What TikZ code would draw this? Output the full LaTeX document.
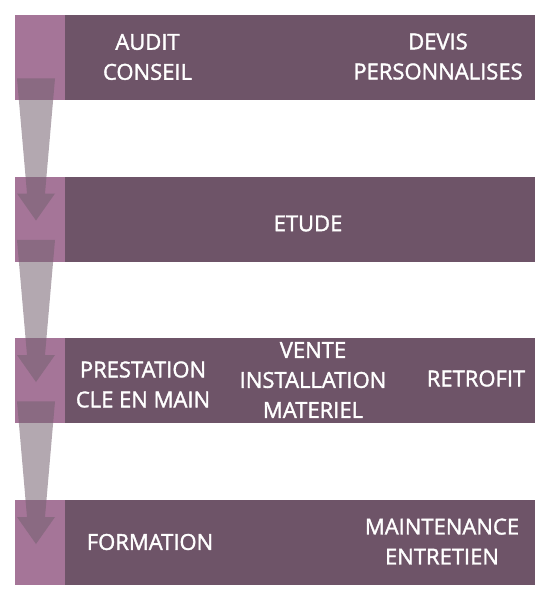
\documentclass[tikz,border=0pt]{standalone}
\usepackage{fontspec}
\setmainfont{Open Sans}
\newfontfamily\lblfont{Open Sans}[FakeBold=1.6]
\definecolor{barmain}{RGB}{110,84,104}
\definecolor{barside}{RGB}{165,117,152}
\definecolor{arrowc}{RGB}{117,97,112}
\begin{document}
\begin{tikzpicture}[x=1pt,y=-1pt,
  mainbar/.style={fill=barmain,draw=none,minimum width=471pt,minimum height=85pt,anchor=north west,inner sep=0pt},
  sidebar/.style={fill=barside,draw=none,minimum width=50pt,minimum height=85pt,anchor=north west,inner sep=0pt},
  lbl/.style={text=white,font=\lblfont\fontsize{22}{30}\selectfont,align=center,inner sep=0pt},
  flowarrow/.style={fill=arrowc,fill opacity=0.55,draw=none}]
\useasboundingbox (0,0) rectangle (550,600);
\foreach \n/\y in {1/15,2/176.5,3/338,4/500}{
  \node[mainbar] (m\n) at (64,\y) {};
  \node[sidebar] (s\n) at (15,\y) {};
}
% arrows
\foreach \a/\b in {1/2,2/3,3/4}{
  \fill[flowarrow] ([xshift=2pt,yshift=22pt]s\a.south west) -- ([xshift=40pt,yshift=22pt]s\a.south west)
    -- ([xshift=30pt,yshift=-17pt]s\b.north west) -- ([xshift=40pt,yshift=-17pt]s\b.north west)
    -- ([xshift=21pt,yshift=-44pt]s\b.north west) -- ([xshift=2pt,yshift=-17pt]s\b.north west)
    -- ([xshift=12pt,yshift=-17pt]s\b.north west) -- cycle;
}
\node[lbl] (t1) at (147.5,57) {AUDIT\\CONSEIL};
\node[lbl] (t2) at (438,56.5) {DEVIS\\PERSONNALISES};
\node[lbl] (t3) at (308,223.5) {ETUDE};
\node[lbl] (t4) at (143,384.5) {PRESTATION\\CLE EN MAIN};
\node[lbl] (t5) at (313,380) {VENTE\\INSTALLATION\\MATERIEL};
\node[lbl] (t6) at (476,378.5) {RETROFIT};
\node[lbl] (t7) at (150,542) {FORMATION};
\node[lbl] (t8) at (442,541.5) {MAINTENANCE\\ENTRETIEN};
\end{tikzpicture}
\end{document}
